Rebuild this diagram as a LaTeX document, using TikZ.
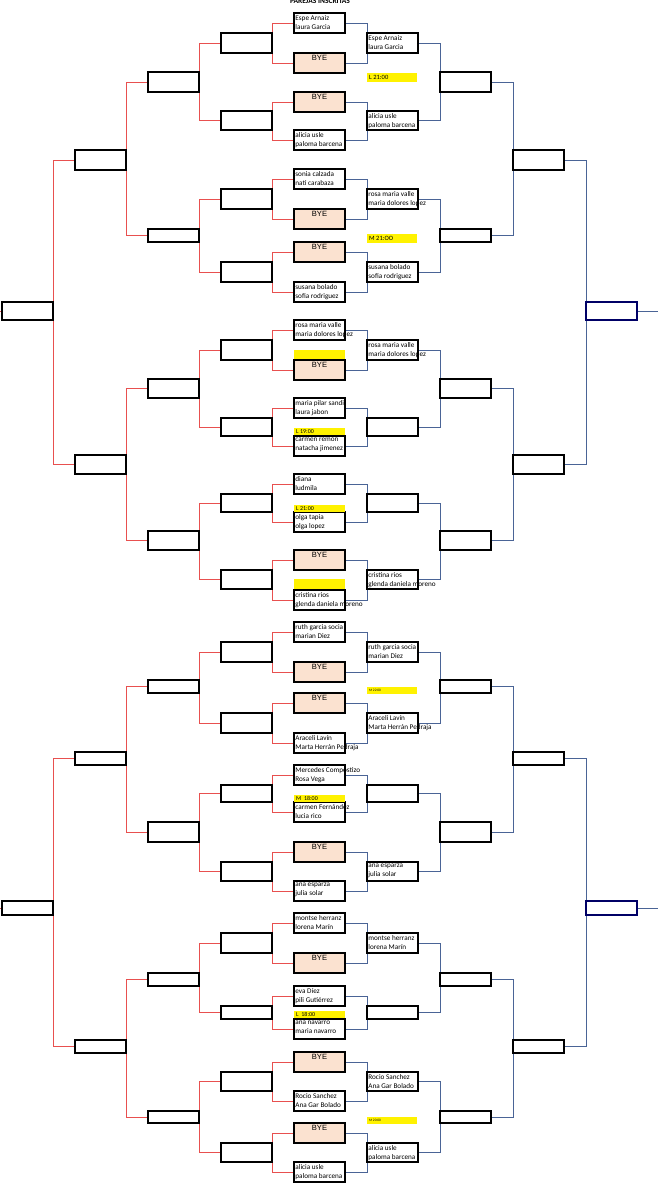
\documentclass[tikz,border=0pt]{standalone}
\usepackage{fontspec}
\setmainfont{Carlito}
\newfontfamily\byefont{Liberation Sans}
\usetikzlibrary{backgrounds}
\definecolor{redl}{HTML}{E8504F}
\definecolor{bluel}{HTML}{4A6496}
\definecolor{byefill}{HTML}{FBE2D0}
\definecolor{yel}{HTML}{FFF200}
\newcommand\bx[6]{\node[#6,minimum width=#4pt,minimum height=#5pt,anchor=north west] (#1) at (#2,#3) {};}
\newcommand\nm[3]{\node[anchor=north west,inner sep=0pt,align=left,font=\fontsize{7.2}{9.2}\selectfont] (#1t) at ([xshift=1.2pt,yshift=-2pt]#1.north west) {#2\\#3};}
\newcommand\bye[1]{\node[anchor=north,inner sep=0pt,font=\byefont\fontsize{7.6}{8}\selectfont] (#1t) at ([yshift=-1.8pt]#1.north) {BYE};}
\newcommand\yl[5]{\node[fill=yel,inner sep=0pt,minimum width=#4pt,minimum height=#5pt,anchor=north west] (#1) at (#2,#3) {};}
\newcommand\ylt[3]{\node[anchor=west,inner sep=0pt,font=\fontsize{#3}{#3}\selectfont] (#1t) at ([xshift=2pt]#1.west) {#2};}
\begin{document}
\begin{tikzpicture}[x=1pt,y=-1pt,
  box/.style={draw=black,line width=1.1pt,fill=white,inner sep=0pt,outer sep=0pt},
  byebox/.style={box,fill=byefill},
  blbox/.style={box,draw=blue!40!black},
  rl/.style={draw=redl,line width=0.6pt},
  bl/.style={draw=bluel,line width=0.6pt}]
\useasboundingbox (0,0) rectangle (658,1200);
\node[font=\bfseries\fontsize{7.5}{8}\selectfont] (title) at (320,1) {PAREJAS INSCRITAS};
% entries
\foreach \n/\y/\h/\s in {1/13/20/box,2/53/20/byebox,3/92/20/byebox,4/130/20/box,5/169/20/box,6/209/20/byebox,7/242/20/byebox,8/282/20/box,
 9/320/20/box,10/360/20/byebox,11/398/20/box,12/436/20/box,13/474/20/box,14/512/20/box,15/550/20/byebox,16/590/20/box,
 17/622/20/box,18/662/20/byebox,19/693/20/byebox,20/733/20/box,21/765/20/box,22/802/20/box,23/842/20/byebox,24/881/20/box,
 25/913/20/box,26/953/20/byebox,27/986/20/box,28/1019/20/box,29/1052/20/byebox,30/1091/20/box,31/1123/20/byebox,32/1162/20/box}
 {\bx{e\n}{294}{\y}{51}{\h}{\s}}
% col3 and col5
\foreach \n/\y/\h in {1/33/20,2/111/19,3/189/20,4/262/20,5/340/20,6/418/18,7/494/18,8/570/19,9/642/20,10/713/20,11/785/17,12/862/19,13/933/20,14/1006/13,15/1072/19,16/1143/19}
 {\bx{a\n}{221}{\y}{51}{\h}{box}\bx{f\n}{367}{\y}{51}{\h}{box}}
% col2 and col6
\foreach \n/\y/\h in {1/72/20,2/229/13,3/379/19,4/531/19,5/680/13,6/822/20,7/973/13,8/1111/12}
 {\bx{b\n}{148}{\y}{51}{\h}{box}\bx{g\n}{440}{\y}{51}{\h}{box}}
% col1 and col7
\foreach \n/\y/\h in {1/150/20,2/455/19,3/752/13,4/1040/13}
 {\bx{c\n}{75}{\y}{51}{\h}{box}\bx{h\n}{513}{\y}{51}{\h}{box}}
% col0 and col8
\foreach \n/\y/\h in {1/302/18,2/901/14}
 {\bx{d\n}{2}{\y}{51}{\h}{box}\bx{k\n}{586}{\y}{51}{\h}{blbox}}
% connectors
\begin{pgfonlayer}{background}
\foreach \i in {1,...,16}{\pgfmathtruncatemacro\l{2*\i-1}\pgfmathtruncatemacro\r{2*\i}
 \draw[rl] (e\l.west) -- (e\l.west -| a\i.east) -- (e\r.west -| a\i.east) -- (e\r.west);
 \draw[bl] (e\l.east) -- (e\l.east -| f\i.west) -- (e\r.east -| f\i.west) -- (e\r.east);}
\foreach \i in {1,...,8}{\pgfmathtruncatemacro\l{2*\i-1}\pgfmathtruncatemacro\r{2*\i}
 \draw[rl] (a\l.west) -- (a\l.west -| b\i.east) -- (a\r.west -| b\i.east) -- (a\r.west);
 \draw[bl] (f\l.east) -- (f\l.east -| g\i.west) -- (f\r.east -| g\i.west) -- (f\r.east);}
\foreach \i in {1,...,4}{\pgfmathtruncatemacro\l{2*\i-1}\pgfmathtruncatemacro\r{2*\i}
 \draw[rl] (b\l.west) -- (b\l.west -| c\i.east) -- (b\r.west -| c\i.east) -- (b\r.west);
 \draw[bl] (g\l.east) -- (g\l.east -| h\i.west) -- (g\r.east -| h\i.west) -- (g\r.east);}
\foreach \i in {1,2}{\pgfmathtruncatemacro\l{2*\i-1}\pgfmathtruncatemacro\r{2*\i}
 \draw[rl] (c\l.west) -- (c\l.west -| d\i.east) -- (c\r.west -| d\i.east) -- (c\r.west);
 \draw[bl] (h\l.east) -- (h\l.east -| k\i.west) -- (h\r.east -| k\i.west) -- (h\r.east);
 \coordinate (lo\i) at (0,0 |- d\i.west);
 \coordinate (ro\i) at (658,0 |- k\i.east);
 \draw[rl] (lo\i) -- (d\i.west);
 \draw[bl] (k\i.east) -- (ro\i);}
\end{pgfonlayer}
% yellow labels
\yl{y1}{294}{350}{51}{9}
\yl{y2}{294}{428}{51}{7}\ylt{y2}{L 19:00}{6}
\yl{y3}{294}{505}{51}{6.5}\ylt{y3}{L 21:00}{6}
\yl{y4}{294}{579}{51}{10}
\yl{y5}{294}{795}{51}{6.5}\ylt{y5}{M\ \ 18:00}{6}
\yl{y6}{294}{1011}{51}{7}\ylt{y6}{L\ \ 18:00}{6}
\yl{y7}{367}{73}{50}{9}\ylt{y7}{L 21:00}{6.5}
\yl{y8}{367}{234}{50}{9}\ylt{y8}{M 21:OO}{6.5}
\yl{y9}{367}{687}{50}{6.5}\ylt{y9}{M 22:00}{3.5}
\yl{y10}{367}{1117}{50}{6.5}\ylt{y10}{M 20:00}{3.5}
% entry texts
\nm{e1}{Espe Arnaiz}{laura Garcia}
\bye{e2}\bye{e3}
\nm{e4}{alicia usle}{paloma barcena}
\nm{e5}{sonia calzada}{nati carabaza}
\bye{e6}\bye{e7}
\nm{e8}{susana bolado}{sofia rodriguez}
\nm{e9}{rosa maria valle}{maria dolores lopez}
\bye{e10}
\nm{e11}{maria pilar sandi}{laura jabon}
\nm{e12}{carmen remon}{natacha jimenez}
\nm{e13}{diana}{ludmila}
\nm{e14}{olga tapia}{olga lopez}
\bye{e15}
\nm{e16}{cristina rios}{glenda daniela moreno}
\nm{e17}{ruth garcia socia}{marian Diez}
\bye{e18}\bye{e19}
\nm{e20}{Araceli Lavín}{Marta Herrán Pedraja}
\nm{e21}{Mercedes Compostizo}{Rosa Vega}
\nm{e22}{carmen Fernández}{lucia rico}
\bye{e23}
\nm{e24}{ana esparza}{julia solar}
\nm{e25}{montse herranz}{lorena Marín}
\bye{e26}
\nm{e27}{eva Díez}{pili Gutiérrez}
\nm{e28}{ana navarro}{maria navarro}
\bye{e29}
\nm{e30}{Rocio Sanchez}{Ana Gar Bolado}
\bye{e31}
\nm{e32}{alicia usle}{paloma barcena}
% winners
\nm{f1}{Espe Arnaiz}{laura Garcia}
\nm{f2}{alicia usle}{paloma barcena}
\nm{f3}{rosa maria valle}{maria dolores lopez}
\nm{f4}{susana bolado}{sofia rodriguez}
\nm{f5}{rosa maria valle}{maria dolores lopez}
\nm{f8}{cristina rios}{glenda daniela moreno}
\nm{f9}{ruth garcia socia}{marian Diez}
\nm{f10}{Araceli Lavín}{Marta Herrán Pedraja}
\nm{f12}{ana esparza}{julia solar}
\nm{f13}{montse herranz}{lorena Marín}
\nm{f15}{Rocio Sanchez}{Ana Gar Bolado}
\nm{f16}{alicia usle}{paloma barcena}
\end{tikzpicture}
\end{document}
